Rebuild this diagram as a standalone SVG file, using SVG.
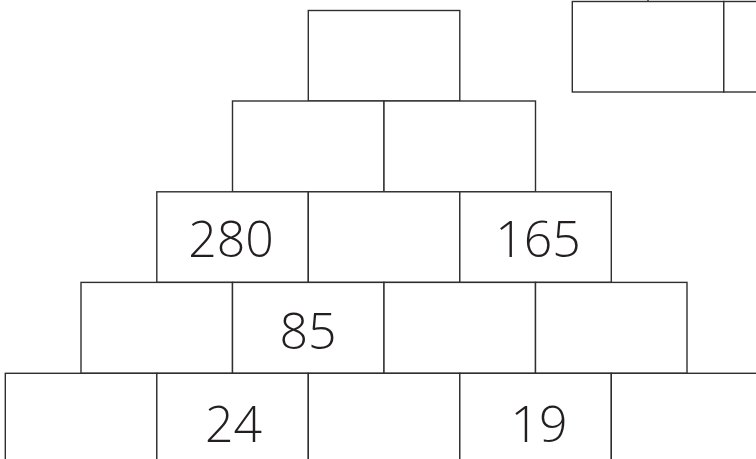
<svg xmlns="http://www.w3.org/2000/svg" width="756" height="459" viewBox="0 0 756 459">
<style>
.b{fill:#fff;stroke:#2f2f2f;stroke-width:1.4}
.t{font-family:"Open Sans","Liberation Sans",sans-serif;font-weight:300;font-size:50px;fill:#231f20;text-anchor:middle}
</style>
<rect width="756" height="459" fill="#fff"/>
<g id="top-right">
<line x1="648" y1="0" x2="648" y2="2" stroke="#2f2f2f" stroke-width="1.4"/>
<rect class="b" x="572.3" y="1.5" width="151.5" height="90.5"/>
<rect class="b" x="723.8" y="1.5" width="151.5" height="90.5"/>
</g>
<g id="r1c1"><rect class="b" x="308.3" y="10.5" width="151.5" height="90.5"/></g>
<g id="r2c1"><rect class="b" x="232.5" y="101" width="151.5" height="90.8"/></g>
<g id="r2c2"><rect class="b" x="384" y="101" width="151.5" height="90.8"/></g>
<g id="r3c1"><rect class="b" x="156.8" y="191.8" width="151.5" height="90.6"/><text class="t" x="231" y="257.3">280</text></g>
<g id="r3c2"><rect class="b" x="308.3" y="191.8" width="151.5" height="90.6"/></g>
<g id="r3c3"><rect class="b" x="459.8" y="191.8" width="151.5" height="90.6"/><text class="t" x="538" y="257.3">165</text></g>
<g id="r4c1"><rect class="b" x="81" y="282.4" width="151.5" height="90.9"/></g>
<g id="r4c2"><rect class="b" x="232.5" y="282.4" width="151.5" height="90.9"/><text class="t" x="308" y="349">85</text></g>
<g id="r4c3"><rect class="b" x="384" y="282.4" width="151.5" height="90.9"/></g>
<g id="r4c4"><rect class="b" x="535.5" y="282.4" width="151.5" height="90.9"/></g>
<g id="r5c1"><rect class="b" x="5.3" y="373.3" width="151.5" height="100"/></g>
<g id="r5c2"><rect class="b" x="156.8" y="373.3" width="151.5" height="100"/><text class="t" x="233.5" y="442.3">24</text></g>
<g id="r5c3"><rect class="b" x="308.3" y="373.3" width="151.5" height="100"/></g>
<g id="r5c4"><rect class="b" x="459.8" y="373.3" width="151.5" height="100"/><text class="t" x="539" y="442.3">19</text></g>
<g id="r5c5"><rect class="b" x="611.3" y="373.3" width="151.5" height="100"/></g>
<g id="connectors"></g>
</svg>
